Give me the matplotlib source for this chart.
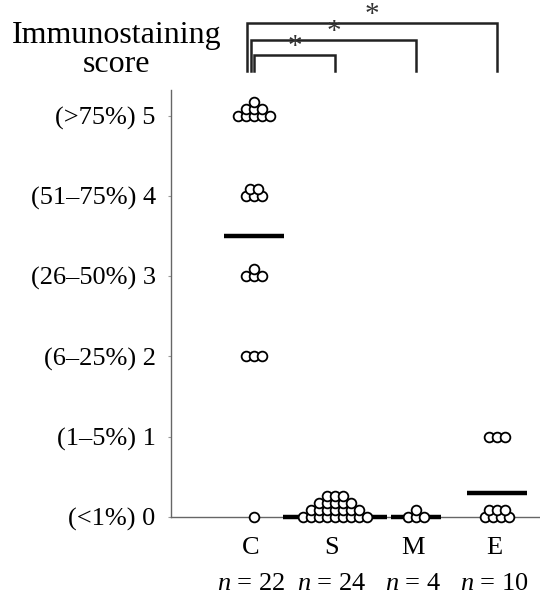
import numpy as np
import matplotlib
matplotlib.use("Agg")
import matplotlib.pyplot as plt

plt.rcParams["font.family"] = ["Liberation Serif", "DejaVu Serif"]
plt.rcParams["mathtext.fontset"] = "custom"
plt.rcParams["mathtext.rm"] = "Liberation Serif"
plt.rcParams["mathtext.it"] = "Liberation Serif:italic"

# data
groups = ["C", "S", "M", "E"]
group_n = [22, 24, 4, 10]
score_levels = [0, 1, 2, 3, 4, 5]
counts_C = [1, 0, 3, 4, 5, 9]
counts_S = [24, 0, 0, 0, 0, 0]
counts_M = [4, 0, 0, 0, 0, 0]
counts_E = [7, 3, 0, 0, 0, 0]
center_lines = [3.5, 0.0, 0.0, 0.3]
score_labels = ["(<1%) 0", "(1\u20135%) 1", "(6\u201325%) 2",
                "(26\u201350%) 3", "(51\u201375%) 4", "(>75%) 5"]
comparisons = [("C", "S"), ("C", "M"), ("C", "E")]
comparison_marks = ["*", "*", "*"]

# layout of the stacked dots (rows from the bottom up), by count
STACK_ROWS = {1: [1], 3: [3], 4: [3, 1], 5: [3, 2], 7: [4, 3],
              9: [5, 3, 1], 24: [9, 7, 5, 3]}
DX, DY = 0.099, 0.088
line_half = [0.37, 0.64, 0.31, 0.37]
bracket_y = [5.75, 5.94, 6.15]
bracket_left = [0.0, -0.04, -0.09]
leg_bottom = 5.56

fig = plt.figure(figsize=(5.4, 5.94), dpi=100)
ax = fig.add_axes([171 / 540, 1 - 517 / 594, 369 / 540, 427 / 594])

all_counts = [counts_C, counts_S, counts_M, counts_E]
xpos = np.arange(1, len(groups) + 1)

for gx, counts in zip(xpos, all_counts):
    for level, n in zip(score_levels, counts):
        if n == 0:
            continue
        for i, k in enumerate(STACK_ROWS[n]):
            xs = gx + (np.arange(k) - (k - 1) / 2) * DX
            ys = np.full(k, level + i * DY)
            ax.plot(xs, ys, "o", ms=7, mfc="white", mec="black", mew=1.3,
                    clip_on=False, zorder=4 + i)

for gx, c, h in zip(xpos, center_lines, line_half):
    ax.plot([gx - h, gx + h], [c, c], color="black", lw=3.2,
            solid_capstyle="butt", clip_on=False, zorder=3)

# significance brackets
gidx = {g: x for g, x in zip(groups, xpos)}
for (a, b), mark, yb, off in zip(comparisons, comparison_marks, bracket_y, bracket_left):
    x1, x2 = gidx[a] + off, gidx[b]
    ax.plot([x1, x1, x2, x2], [leg_bottom, yb, yb, leg_bottom], color="#222222",
            lw=1.8, clip_on=False, solid_joinstyle="miter")
    ax.text((x1 + x2) / 2, yb - 0.06, mark, ha="center", va="bottom",
            fontsize=21, color="#333333")

ax.set_xlim(-0.025, 4.53)
ax.set_ylim(0, 5.32)
ax.set_yticks(score_levels)
ax.set_yticklabels(score_labels, fontsize=19)
ax.set_xticks([])
for s in ["top", "right"]:
    ax.spines[s].set_visible(False)
for s in ["left", "bottom"]:
    ax.spines[s].set_color("#666666")
    ax.spines[s].set_linewidth(1.0)
ax.tick_params(axis="y", length=2, width=0.8, color="#999999", pad=9)

for gx, g, n in zip(xpos, groups, group_n):
    ax.text(gx - 0.04, -0.38, g, ha="center", va="center", fontsize=19)
    ax.text(gx - 0.04, -0.83, f"$n$ = {n}", ha="center", va="center", fontsize=19)

fig.text(117 / 540, 1 - 50 / 594, "Immunostaining\nscore", ha="center",
         va="center", fontsize=23, linespacing=1.0)

fig.savefig("out.png", dpi=100)
